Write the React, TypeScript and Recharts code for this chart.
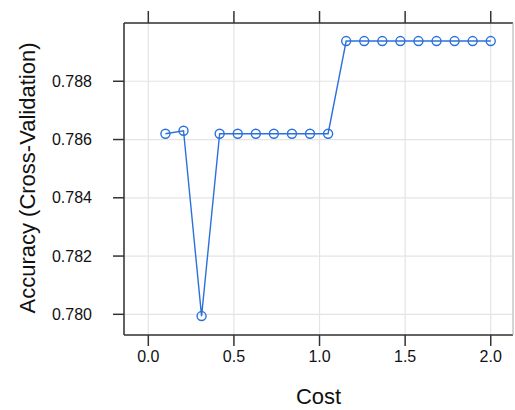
import React from 'react';
import { LineChart, Line, XAxis, YAxis, CartesianGrid } from 'recharts';

// tuning grid: cost values and cross-validated accuracy
const cost = [
  0.1, 0.2056, 0.3111, 0.4167, 0.5222, 0.6278, 0.7333, 0.8389, 0.9444, 1.05,
  1.1556, 1.2611, 1.3667, 1.4722, 1.5778, 1.6833, 1.7889, 1.8944, 2.0,
];
const accuracy = [
  0.7862, 0.7863, 0.77994, 0.7862, 0.7862, 0.7862, 0.7862, 0.7862, 0.7862, 0.7862,
  0.78938, 0.78938, 0.78938, 0.78938, 0.78938, 0.78938, 0.78938, 0.78938, 0.78938,
];
const xTicks = [0, 0.5, 1.0, 1.5, 2.0];
const yTicks = [0.78, 0.782, 0.784, 0.786, 0.788];

const chartData = cost.map((c, i) => ({ cost: c, accuracy: accuracy[i] }));

const FONT = '"Liberation Sans", Arial, Helvetica, sans-serif';
const AXIS = '#333333';
const BLUE = '#2b71dc';
const X_DOMAIN: [number, number] = [-0.142, 2.13];
const Y_DOMAIN: [number, number] = [0.77929, 0.79];

const YLabel = () => (
  <text
    x={35}
    y={178}
    transform="rotate(-90 35 178)"
    textAnchor="middle"
    fontSize={22}
    fontFamily={FONT}
    fill="#111"
  >
    Accuracy (Cross-Validation)
  </text>
);

const App: React.FC = () => {
  return (
    <div style={{ position: 'absolute', left: 0, top: 0 }}>
      <LineChart
        width={515}
        height={410}
        data={chartData}
        margin={{ top: 0, right: 0, bottom: 0, left: 0 }}
      >
        <CartesianGrid stroke="#e4e4e4" strokeWidth={1.2} />
        <XAxis
          dataKey="cost"
          type="number"
          domain={X_DOMAIN}
          allowDataOverflow
          ticks={xTicks}
          tickFormatter={(v: number) => v.toFixed(1)}
          height={75}
          tickSize={11}
          tickMargin={5}
          stroke={AXIS}
          strokeWidth={1.5}
          tick={{ fill: '#111', fontSize: 16, fontFamily: FONT }}
          label={{ value: 'Cost', position: 'insideBottom', offset: 6, fontSize: 22, fill: '#111', fontFamily: FONT }}
        />
        <XAxis
          xAxisId="top"
          dataKey="cost"
          orientation="top"
          type="number"
          domain={X_DOMAIN}
          allowDataOverflow
          ticks={xTicks}
          tickFormatter={() => ''}
          height={23}
          tickSize={12}
          stroke={AXIS}
          strokeWidth={1.5}
        />
        <YAxis
          type="number"
          domain={Y_DOMAIN}
          allowDataOverflow
          ticks={yTicks}
          tickFormatter={(v: number) => v.toFixed(3)}
          width={124}
          tickSize={11}
          tickMargin={21}
          stroke={AXIS}
          strokeWidth={1.5}
          tick={{ fill: '#111', fontSize: 16, fontFamily: FONT }}
          label={<YLabel />}
        />
        <YAxis
          yAxisId="right"
          orientation="right"
          type="number"
          domain={Y_DOMAIN}
          allowDataOverflow
          width={2}
          tick={false}
          tickLine={false}
          stroke="#bbbbbb"
        />
        {/* invisible copy so the top axis gets the same numeric scale */}
        <Line
          xAxisId="top"
          dataKey="accuracy"
          stroke="none"
          dot={false}
          activeDot={false}
          isAnimationActive={false}
        />
        <Line
          dataKey="accuracy"
          stroke={BLUE}
          strokeWidth={1.4}
          dot={{ r: 4.5, fill: 'none', stroke: BLUE, strokeWidth: 1.4 }}
          isAnimationActive={false}
        />
      </LineChart>
    </div>
  );
};

export default App;
